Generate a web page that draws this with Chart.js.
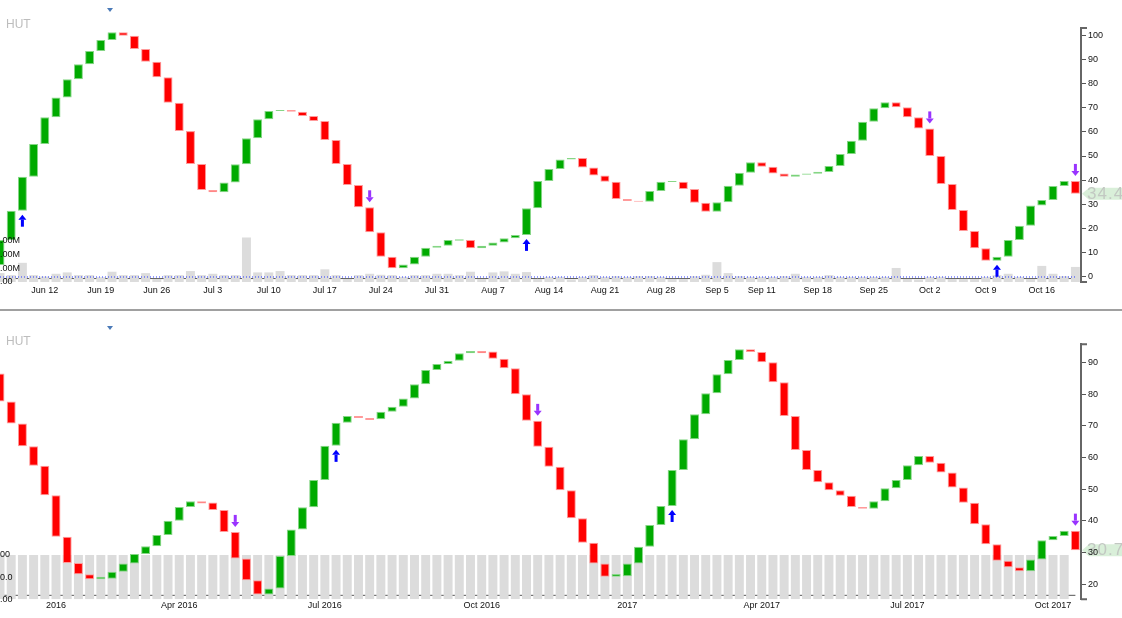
<!DOCTYPE html>
<html><head><meta charset="utf-8">
<script src="https://cdn.jsdelivr.net/npm/chart.js@4.4.0/dist/chart.umd.min.js"></script>
<style>
html,body{margin:0;padding:0;background:#fff;width:1122px;height:618px;overflow:hidden;}
canvas{position:absolute;left:0;}
#top{top:0;}
#bot{top:311px;}
.sep{position:absolute;left:0;top:309px;width:1122px;height:2px;background:#a0a0a0;}
.sym{position:absolute;left:6px;font:12px "Liberation Sans",Arial,sans-serif;color:#bdbdbd;line-height:14px;}
.tri{position:absolute;left:107px;width:0;height:0;border-left:3.5px solid transparent;border-right:3.5px solid transparent;border-top:4px solid #4a7ab8;}
</style></head>
<body>
<canvas id="top" width="1122" height="309" style="width:1122px;height:309px"></canvas>
<div class="sep"></div>
<canvas id="bot" width="1122" height="307" style="width:1122px;height:307px"></canvas>
<div class="sym" style="top:17px">HUT</div>
<div class="tri" style="top:8px"></div>
<div class="sym" style="top:334px">HUT</div>
<div class="tri" style="top:326px"></div>
<script>
// ---------- TOP PANEL (daily) ----------
const topXLabels = ['Jun 12','Jun 19','Jun 26','Jul 3','Jul 10','Jul 17','Jul 24','Jul 31','Aug 7','Aug 14','Aug 21','Aug 28','Sep 5','Sep 11','Sep 18','Sep 25','Oct 2','Oct 9','Oct 16'];
const topXLabelIdx = [4,9,14,19,24,29,34,39,44,49,54,59,64,68,73,78,83,88,93];
const topYTicks = [0,10,20,30,40,50,60,70,80,90,100];
const topOpen = [5.0,15.3,27.4,41.4,55.0,66.0,74.2,81.7,87.9,93.4,97.9,101.1,99.7,94.2,89.0,82.5,72.0,60.3,46.7,36.0,
  35.0,39.0,46.6,57.3,65.2,68.6,69.0,68.3,66.5,64.5,56.6,46.7,38.0,28.8,18.5,8.4,3.6,5.2,8.4,12.1,
  12.9,15.0,15.3,11.9,12.9,14.3,16.0,17.4,28.4,39.7,44.6,48.6,49.2,45.2,41.9,39.4,32.2,31.5,31.1,35.5,
  39.3,39.4,36.4,30.7,27.0,30.9,37.7,43.1,47.4,45.6,42.8,41.4,42.3,42.7,43.4,45.9,50.8,56.3,64.2,69.7,
  72.2,70.1,66.0,61.4,50.0,38.4,27.7,19.0,11.9,6.7,8.4,15.3,21.2,29.5,31.8,37.6,39.7];
const topClose = [15.3,27.4,41.4,55.0,66.0,74.2,81.7,87.9,93.4,97.9,101.1,99.7,94.2,89.0,82.5,72.0,60.3,46.7,36.0,35.0,
  39.0,46.6,57.3,65.2,68.6,69.0,68.3,66.5,64.5,56.6,46.7,38.0,28.8,18.5,8.4,3.6,5.2,8.4,12.1,12.9,
  15.3,15.6,11.9,12.9,14.3,16.0,17.4,28.4,39.7,44.6,48.6,49.2,45.2,41.9,39.4,32.2,31.4,31.1,35.5,39.4,
  39.7,36.4,30.7,27.0,30.9,37.7,43.1,47.4,45.6,42.8,41.4,42.4,42.8,43.5,45.9,50.8,56.3,64.2,69.7,72.2,
  70.1,66.0,61.4,50.0,38.4,27.7,19.0,11.9,6.7,8.4,15.3,21.2,29.5,31.8,37.6,39.7,34.4];
const topVolume = [1.3,1.0,2.8,1.0,0.8,1.2,1.4,1.0,1.0,0.7,1.5,1.0,1.0,1.3,0.45,1.0,1.0,1.6,1.0,1.2,
  1.0,1.0,6.5,1.4,1.4,1.6,1.0,1.0,1.0,1.85,1.0,0.45,1.0,1.2,1.05,1.0,0.75,1.0,1.0,1.2,
  1.2,1.0,1.5,0.45,1.4,1.55,1.2,1.45,0.45,0.75,0.75,0.35,0.75,1.0,0.75,0.85,0.75,0.85,0.85,0.75,
  0.45,0.45,0.85,1.05,2.9,1.3,0.85,0.75,0.75,0.75,0.85,1.2,0.75,0.75,1.0,0.75,0.75,0.75,0.75,0.75,
  2.05,0.45,0.35,0.75,0.75,0.45,0.45,0.45,0.75,1.0,1.2,0.75,0.45,2.35,1.2,0.85,2.2];
const topVolLabels = ['0.00','2.00M','4.00M','6.00M'];
const topVolLabelVals = [0,2,4,6];
const topUpArrows = [2,47,89];
const topDownArrows = [33,83,96];

// ---------- BOTTOM PANEL (weekly) ----------
const botXLabels = ['2016','Apr 2016','Jul 2016','Oct 2016','2017','Apr 2017','Jul 2017','Oct 2017'];
const botXLabelIdx = [5,16,29,43,56,68,81,94];
const botYTicks = [20,30,40,50,60,70,80,90];
const botOpen = [86.6,77.7,70.8,63.6,57.4,48.1,35.0,26.7,23.1,21.5,21.7,23.9,26.5,29.5,32.0,35.5,40.0,44.4,46.2,45.8,
  43.4,36.5,28.1,21.2,16.7,18.6,28.9,37.3,44.3,52.9,63.7,71.0,73.1,72.5,72.1,74.5,76.1,78.7,83.2,87.7,
  89.6,90.6,93.0,93.7,93.5,91.2,88.2,80.0,71.6,63.4,57.1,49.7,40.8,33.1,26.5,22.3,22.5,26.5,31.8,38.7,
  44.7,56.1,65.8,73.7,80.3,86.3,90.8,94.2,93.4,90.1,83.8,73.1,62.4,56.1,52.2,49.7,47.9,44.4,43.8,46.2,
  50.3,52.9,57.6,60.5,58.4,55.3,50.5,45.7,38.9,32.6,27.4,25.3,24.1,27.8,33.9,35.2,36.9];
const botClose = [77.7,70.8,63.6,57.4,48.1,35.0,26.7,23.1,21.5,22.3,23.9,26.5,29.5,32.0,35.5,40.0,44.4,46.2,45.5,43.4,
  36.5,28.1,21.2,16.7,18.6,28.9,37.3,44.3,52.9,63.7,71.0,73.1,72.5,71.9,74.5,76.1,78.7,83.2,87.7,89.6,
  90.6,93.0,93.7,93.0,91.2,88.2,80.0,71.6,63.4,57.1,49.7,40.8,33.1,26.5,22.3,23.2,26.5,31.8,38.7,44.7,
  56.1,65.8,73.7,80.3,86.3,90.8,94.2,93.4,90.1,83.8,73.1,62.4,56.1,52.2,49.7,47.9,44.4,43.8,46.2,50.3,
  52.9,57.6,60.5,58.4,55.3,50.5,45.7,38.9,32.6,27.4,25.3,24.1,27.8,33.9,35.2,36.9,30.7];
const botVolume = [100,100,100,100,100,100,100,100,100,100,100,100,100,100,100,100,100,100,100,100,
  100,100,100,100,100,100,100,100,100,100,100,100,100,100,100,100,100,100,100,100,
  100,100,100,100,100,100,100,100,100,100,100,100,100,100,100,100,100,100,100,100,
  100,100,100,100,100,100,100,100,100,100,100,100,100,100,100,100,100,100,100,100,
  100,100,100,100,100,100,100,100,100,100,100,100,100,100,100,100,null];
const botVolLabels = ['0.00','50.0','100'];
const botVolLabelVals = [0,50,100];
const botUpArrows = [30,60];
const botDownArrows = [21,48,96];

const FONT = '"Liberation Sans", Arial, Helvetica, sans-serif';
Chart.defaults.font.family = FONT;
Chart.defaults.animation = false;

function makeOverlay(p) {
  return {
    id: 'ov_' + p.id,
    beforeDraw(chart) {
      const {ctx, chartArea: a, scales: {y}} = chart;
      const last = p.close[p.close.length - 1];
      const py = y.getPixelForValue(last);
      ctx.save();
      ctx.fillStyle = '#d9efd9';
      ctx.beginPath();
      ctx.moveTo(a.right + 1, py);
      ctx.lineTo(a.right + 8, py - 6);
      ctx.lineTo(chart.width, py - 6);
      ctx.lineTo(chart.width, py + 6);
      ctx.lineTo(a.right + 8, py + 6);
      ctx.closePath();
      ctx.fill();
      ctx.fillStyle = '#c2c8c2';
      ctx.font = '17px ' + FONT;
      try { ctx.letterSpacing = '1px'; } catch (e) {}
      ctx.textBaseline = 'middle';
      ctx.textAlign = 'left';
      ctx.fillText(last.toFixed(1), a.right + 6, py + 0.5);
      ctx.restore();
    },
    afterDatasetsDraw(chart) {
      const {ctx, scales: {x, y}} = chart;
      ctx.save();
      p.up.forEach(i => {
        const lo = Math.min(p.open[i], p.close[i]);
        const cx = x.getPixelForValue(i), t = y.getPixelForValue(lo) + 4;
        ctx.fillStyle = '#0000ff';
        ctx.beginPath(); ctx.moveTo(cx, t); ctx.lineTo(cx + 4, t + 5); ctx.lineTo(cx - 4, t + 5); ctx.closePath(); ctx.fill();
        ctx.fillRect(cx - 1.5, t + 5, 3, 7);
      });
      p.down.forEach(i => {
        const hi = Math.max(p.open[i], p.close[i]);
        const cx = x.getPixelForValue(i), b = y.getPixelForValue(hi) - 5;
        ctx.fillStyle = '#9933ff';
        ctx.beginPath(); ctx.moveTo(cx, b); ctx.lineTo(cx + 4, b - 5); ctx.lineTo(cx - 4, b - 5); ctx.closePath(); ctx.fill();
        ctx.fillRect(cx - 1.5, b - 12, 3, 7);
      });
      ctx.restore();
    },
    afterDraw(chart) {
      const {ctx, chartArea: a, scales: {v}} = chart;
      ctx.save();
      ctx.strokeStyle = '#666';
      ctx.lineWidth = 2;
      ctx.beginPath();
      ctx.moveTo(a.right, a.top); ctx.lineTo(a.right + 6, a.top);
      ctx.moveTo(a.right, a.bottom); ctx.lineTo(a.right + 6, a.bottom);
      ctx.stroke();
      ctx.fillStyle = '#111';
      ctx.font = '9px ' + FONT;
      ctx.textAlign = 'left';
      ctx.textBaseline = 'middle';
      p.volLabels.forEach((t, k) => ctx.fillText(t, -5, v.getPixelForValue(p.volLabelVals[k])));
      ctx.restore();
    }
  };
}

function build(id, p) {
  const up = p.open.map((o, i) => p.close[i] >= o);
  const datasets = [
    {type: 'bar', data: p.open.map((o, i) => ({x: i, y: [o, p.close[i]]})),
     backgroundColor: up.map(u => u ? '#00aa00' : '#ff0000'),
     borderColor: up.map(u => u ? '#86d686' : '#ff9a9a'),
     borderWidth: 1, borderSkipped: false, grouped: false,
     barPercentage: 1, categoryPercentage: 0.8, yAxisID: 'y', order: 0},
    {type: 'bar', data: p.vol.map((val, i) => ({x: i, y: val})),
     backgroundColor: '#dcdcdc', borderWidth: 0, grouped: false,
     barPercentage: 1, categoryPercentage: 0.8, yAxisID: 'v', order: 2},
    {type: 'line', data: [{x: 0, y: p.baseLine}, {x: p.open.length - 1, y: p.baseLine}],
     borderColor: '#555', borderWidth: 1, pointRadius: 0, yAxisID: 'v', order: 3}
  ];
  if (p.zeroLine) {
    datasets.push({type: 'line', data: [{x: 0, y: 0}, {x: p.open.length - 1, y: 0}],
      borderColor: '#2b3bff', borderWidth: 1, borderDash: [1, 2], pointRadius: 0, yAxisID: 'y', order: 1});
  }
  return new Chart(document.getElementById(id), {
    type: 'bar',
    data: {datasets},
    plugins: [makeOverlay(p)],
    options: {
      responsive: false, animation: false,
      layout: {padding: {top: p.padTop, left: 0, right: 0, bottom: 0}},
      plugins: {legend: {display: false}, tooltip: {enabled: false}},
      scales: {
        x: {type: 'linear', min: 0, max: 96.5, offset: false,
            grid: {display: false, drawTicks: false}, border: {display: false},
            afterBuildTicks: s => { s.ticks = p.xIdx.map(val => ({value: val})); },
            afterFit: s => { s.height = p.xH; },
            ticks: {autoSkip: false, maxRotation: 0, minRotation: 0, padding: p.xPad,
                    color: '#111', font: {size: 9},
                    callback: (val, idx) => p.xLabels[idx]}},
        y: {position: 'right', min: p.yMin, max: p.yMax,
            afterBuildTicks: s => { s.ticks = p.yTicks.map(val => ({value: val})); },
            afterFit: s => { s.width = 41; },
            grid: {drawOnChartArea: false, drawTicks: true, tickLength: 5, color: '#555', lineWidth: 1},
            border: {display: true, color: '#666', width: 2},
            ticks: {padding: 2, color: '#111', font: {size: 9}, callback: val => String(val)}},
        v: {display: false, min: 0, max: p.vMax}
      }
    }
  });
}

build('top', {id: 'top', open: topOpen, close: topClose, vol: topVolume,
  xLabels: topXLabels, xIdx: topXLabelIdx, yTicks: topYTicks, yMin: -2.07, yMax: 102.9,
  vMax: 37.08, baseLine: 0.5, zeroLine: true, padTop: 28, xH: 27, xPad: 3,
  volLabels: topVolLabels, volLabelVals: topVolLabelVals, up: topUpArrows, down: topDownArrows});

build('bot', {id: 'bot', open: botOpen, close: botClose, vol: botVolume,
  xLabels: botXLabels, xIdx: botXLabelIdx, yTicks: botYTicks, yMin: 15.2, yMax: 95.8,
  vMax: 575.6, baseLine: 9, zeroLine: false, padTop: 33.3, xH: 18.7, xPad: 1,
  volLabels: botVolLabels, volLabelVals: botVolLabelVals, up: botUpArrows, down: botDownArrows});
</script>
</body></html>
